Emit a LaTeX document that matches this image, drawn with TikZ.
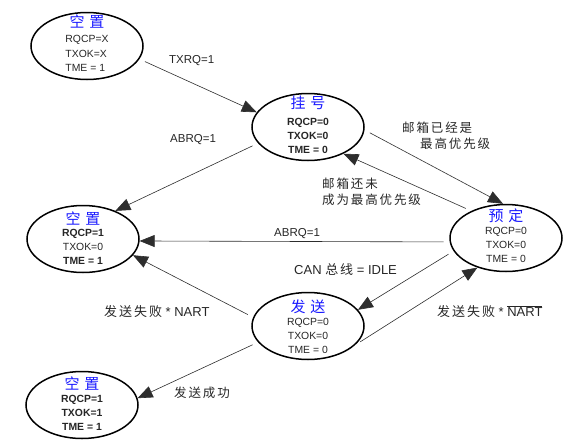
\documentclass[tikz,border=0pt]{standalone}
\usepackage{fontspec}
\setmainfont{Liberation Sans}
\newfontfamily\cjk[LetterSpace=15]{Noto Sans CJK SC}
\newfontfamily\cjktitle{Noto Sans CJK SC}
\usetikzlibrary{arrows.meta,shapes.geometric}
\definecolor{titleblue}{RGB}{25,25,255}
\definecolor{linegray}{RGB}{45,45,45}
\tikzset{
  state/.style={ellipse,draw=black,line width=1.5pt,minimum width=112pt,minimum height=67pt,inner sep=0pt},
  ttl/.style={font=\cjktitle\fontsize{15}{18}\selectfont,text=titleblue,inner sep=0pt},
  body/.style={font=\fontsize{10.4}{14.2}\selectfont,align=center,inner sep=0pt,text=black!85},
  edge/.style={draw=linegray,line width=0.6pt,shorten <=6pt,-{Triangle[length=15pt,width=12pt]}},
  lbl/.style={font=\fontsize{11.5}{14}\selectfont,inner sep=0pt,anchor=west,text=black!85},
  clbl/.style={font=\cjk\fontsize{12.5}{16.5}\selectfont,inner sep=0pt,anchor=west,align=left,text=black!85},
  blbl/.style={font=\fontsize{13}{16}\selectfont,inner sep=0pt,anchor=west,text=black!85}
}
\begin{document}
\begin{tikzpicture}[x=1pt,y=-1pt]
\useasboundingbox (0,0) rectangle (584,445);
% states
\node[state] (e1) at (87,46) {};
\node[state] (e2) at (308,127) {};
\node[state] (e3) at (506,238) {};
\node[state] (e4) at (83,239) {};
\node[state] (e5) at (308,326) {};
\node[state] (e6) at (82,405) {};
% titles
\node[ttl] (t1) at ([yshift=24pt]e1.center) {空\hspace{5pt}置};
\node[ttl] (t2) at ([yshift=24pt]e2.center) {挂\hspace{5pt}号};
\node[ttl] (t3) at ([yshift=22pt]e3.center) {预\hspace{5pt}定};
\node[ttl] (t4) at ([yshift=20pt]e4.center) {空\hspace{5pt}置};
\node[ttl] (t5) at ([yshift=19pt]e5.center) {发\hspace{5pt}送};
\node[ttl] (t6) at ([yshift=21pt]e6.center) {空\hspace{5pt}置};
% bodies
\node[body,align=left] (b1) at ([yshift=-7.5pt]e1.center) {RQCP=X\\TXOK=X\\TME = 1};
\node[body] (b2) at ([yshift=-9pt]e2.center) {\textbf{RQCP=0}\\\textbf{TXOK=0}\\\textbf{TME = 0}};
\node[body] (b3) at ([yshift=-7pt]e3.center) {RQCP=0\\TXOK=0\\TME = 0};
\node[body] (b4) at ([yshift=-8pt]e4.center) {\textbf{RQCP=1}\\TXOK=0\\\textbf{TME = 1}};
\node[body] (b5) at ([yshift=-10pt]e5.center) {RQCP=0\\TXOK=0\\TME = 0};
\node[body] (b6) at ([yshift=-8pt]e6.center) {\textbf{RQCP=1}\\\textbf{TXOK=1}\\\textbf{TME = 1}};
% edges
\draw[edge] (e1.-14) -- (e2.164);
\draw[edge] (e2.198) -- (e4.41);
\draw[edge] (e2.-3) -- (e3.95);
\draw[edge] (e3.142) -- (e2.-37);
\draw[edge] (e3.184) -- (e4.-2);
\draw[edge] (e3.194) -- (e5.18);
\draw[edge] (e5.-22) -- (e3.226);
\draw[edge] (e5.171) -- (e4.-18);
\draw[edge] (e5.198) -- (e6.7);
% edge labels
\node[lbl] (l1) at (169,61) {TXRQ=1};
\node[lbl] (l2) at (170,140) {ABRQ=1};
\node[lbl] (l3) at (274,234) {ABRQ=1};
\node[clbl] (l4) at (402,136) {邮箱已经是\\\hspace{18pt}最高优先级};
\node[clbl] (l5) at (322,192) {邮箱还未\\成为最高优先级};
\node[blbl] (l6) at (294,270) {CAN {\cjk 总线} = IDLE};
\node[blbl] (l7) at (104,312) {{\cjk 发送失败} * NART};
\node[blbl] (l8) at (437,312) {{\cjk 发送失败} * $\overline{\mbox{NART}}$};
\node[clbl] (l9) at (174,393) {发送成功};
\end{tikzpicture}
\end{document}
